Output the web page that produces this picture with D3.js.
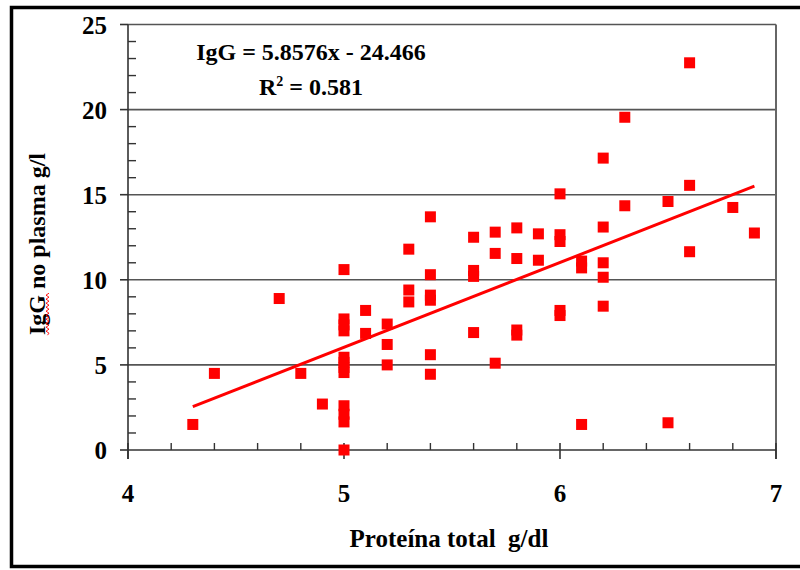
<!DOCTYPE html>
<html><head><meta charset="utf-8">
<script src="https://cdn.jsdelivr.net/npm/d3@7"></script>
<style>body{margin:0;background:#fff}svg{display:block}text{font-family:"Liberation Serif","Times New Roman",serif;font-weight:bold;fill:#000;white-space:pre}</style>
</head><body>
<script>
// ---- data ----
const proteina = [4.3,4.4,4.7,4.8,4.9,
  5,5,5,5,5,5,5,5,5,5,5,5,
  5.1,5.1, 5.2,5.2,5.2, 5.3,5.3,5.3,
  5.4,5.4,5.4,5.4,5.4,5.4,
  5.6,5.6,5.6,5.6, 5.7,5.7,5.7, 5.8,5.8,5.8,5.8, 5.9,5.9,
  6,6,6,6,6, 6.1,6.1,6.1, 6.2,6.2,6.2,6.2,6.2, 6.3,6.3,
  6.5,6.5, 6.6,6.6,6.6, 6.8, 6.9];
const igg = [1.5,4.5,8.9,4.5,2.7,
  10.6,7.7,7.35,7.0,5.45,5.15,4.85,4.55,2.6,2.1,1.65,0,
  8.2,6.85, 7.4,6.2,5.0, 11.8,9.4,8.7,
  13.7,10.3,9.1,8.8,5.6,4.45,
  12.5,10.55,10.2,6.9, 12.8,11.55,5.1, 13.05,11.25,7.05,6.75, 12.7,11.15,
  15.05,12.65,12.25,8.2,7.9, 11.1,10.7,1.5, 17.15,13.1,11.0,10.15,8.45, 19.55,14.35,
  14.6,1.6, 22.75,15.55,11.65, 14.25, 12.75];
const trendX = [4.3, 6.9];
const trendY = [2.55, 15.5];
const xTicks = [4,5,6,7];
const yTicks = [0,5,10,15,20,25];
const xMinor = d3.range(4, 7.001, 0.2);
const yMinor = d3.range(0, 25.001, 1);
const equationLine = "IgG = 5.8576x - 24.466";
const r2Value = "0.581";
const xTitle = "Proteína total  g/dl";
const yTitle = "IgG no plasma g/l";

// ---- drawing ----
const W = 800, H = 570;
const svg = d3.select("body").append("svg").attr("width", W).attr("height", H);
const x = d3.scaleLinear().domain([4, 7]).range([128, 776]);
const y = d3.scaleLinear().domain([0, 25]).range([450, 24.5]);

// outer frame
svg.append("rect").attr("x", 11.5).attr("y", 7.5).attr("width", 820).attr("height", 559)
  .attr("fill", "none").attr("stroke", "#000").attr("stroke-width", 3.5);

// gridlines
svg.append("g").selectAll("line").data(yTicks.filter(d => d > 0)).join("line")
  .attr("x1", x(4)).attr("x2", x(7)).attr("y1", d => y(d)).attr("y2", d => y(d))
  .attr("stroke", "#555").attr("stroke-width", 1.6);

// right border of plot
svg.append("line").attr("x1", x(7)).attr("x2", x(7)).attr("y1", y(25)).attr("y2", y(0) + 9)
  .attr("stroke", "#666").attr("stroke-width", 2);

// y axis
const yAxisG = svg.append("g");
yAxisG.append("line").attr("x1", x(4)).attr("x2", x(4)).attr("y1", y(25)).attr("y2", y(0) + 9)
  .attr("stroke", "#333").attr("stroke-width", 1.6);
yAxisG.selectAll(".ymin").data(yMinor.filter(d => d % 5 !== 0)).join("line")
  .attr("x1", x(4)).attr("x2", x(4) + 8).attr("y1", d => y(d)).attr("y2", d => y(d))
  .attr("stroke", "#333").attr("stroke-width", 1.4);
yAxisG.selectAll(".ymaj").data(yTicks).join("line")
  .attr("x1", x(4) - 8).attr("x2", x(4)).attr("y1", d => y(d)).attr("y2", d => y(d))
  .attr("stroke", "#333").attr("stroke-width", 1.6);
yAxisG.selectAll("text").data(yTicks).join("text")
  .attr("x", 107).attr("y", d => y(d) + 9).attr("text-anchor", "end")
  .attr("font-size", 25).text(d => d);

// x axis
const xAxisG = svg.append("g");
xAxisG.append("line").attr("x1", x(4)).attr("x2", x(7)).attr("y1", y(0)).attr("y2", y(0))
  .attr("stroke", "#333").attr("stroke-width", 1.6);
xAxisG.selectAll(".xmin").data(xMinor.filter(d => Math.abs(d - Math.round(d)) > 1e-6)).join("line")
  .attr("x1", d => x(d)).attr("x2", d => x(d)).attr("y1", y(0) - 7).attr("y2", y(0))
  .attr("stroke", "#333").attr("stroke-width", 1.4);
xAxisG.selectAll(".xmaj").data(xTicks).join("line")
  .attr("x1", d => x(d)).attr("x2", d => x(d)).attr("y1", y(0) - 7).attr("y2", y(0) + 9)
  .attr("stroke", "#333").attr("stroke-width", 1.6);
xAxisG.selectAll("text").data(xTicks).join("text")
  .attr("x", d => x(d)).attr("y", 502).attr("text-anchor", "middle")
  .attr("font-size", 25).text(d => d);

// trend line
const pts = trendX.map((d, i) => [d, trendY[i]]);
svg.append("path").attr("d", d3.line().x(d => x(d[0])).y(d => y(d[1]))(pts))
  .attr("stroke", "#ff0000").attr("stroke-width", 3).attr("fill", "none");

// markers
const s = 11;
svg.append("g").selectAll("rect").data(proteina.map((d, i) => [d, igg[i]])).join("rect")
  .attr("x", d => x(d[0]) - s / 2).attr("y", d => y(d[1]) - s / 2)
  .attr("width", s).attr("height", s).attr("fill", "#ff0000");

// equation
svg.append("text").attr("x", 311).attr("y", 60).attr("text-anchor", "middle")
  .attr("font-size", 24).text(equationLine);
const r2 = svg.append("text").attr("x", 311).attr("y", 95).attr("text-anchor", "middle")
  .attr("font-size", 24);
r2.append("tspan").text("R");
r2.append("tspan").attr("dy", -9).attr("font-size", 14).text("2");
r2.append("tspan").attr("dy", 9).text(" = " + r2Value);

// axis titles
svg.append("text").attr("x", 449).attr("y", 547).attr("text-anchor", "middle")
  .attr("font-size", 25).text(xTitle);
const yt = svg.append("text").attr("transform", "translate(45,244) rotate(-90)")
  .attr("text-anchor", "middle").attr("font-size", 24).text(yTitle);

// spell-check squiggle under "IgG" in the y title
const bb = yt.node().getBBox();
const igLen = yt.node().getSubStringLength(0, 3);
const y0 = 244 + bb.width / 2, y1 = y0 - igLen;
let dPath = `M47.5,${y0}`;
let k = 0;
for (let yy = y0; yy > y1; yy -= 2) { dPath += ` L${k % 2 ? 46 : 49},${yy - 2}`; k++; }
svg.append("path").attr("d", dPath).attr("stroke", "#ff0000").attr("stroke-width", 0.9).attr("fill", "none");
</script>
</body></html>
